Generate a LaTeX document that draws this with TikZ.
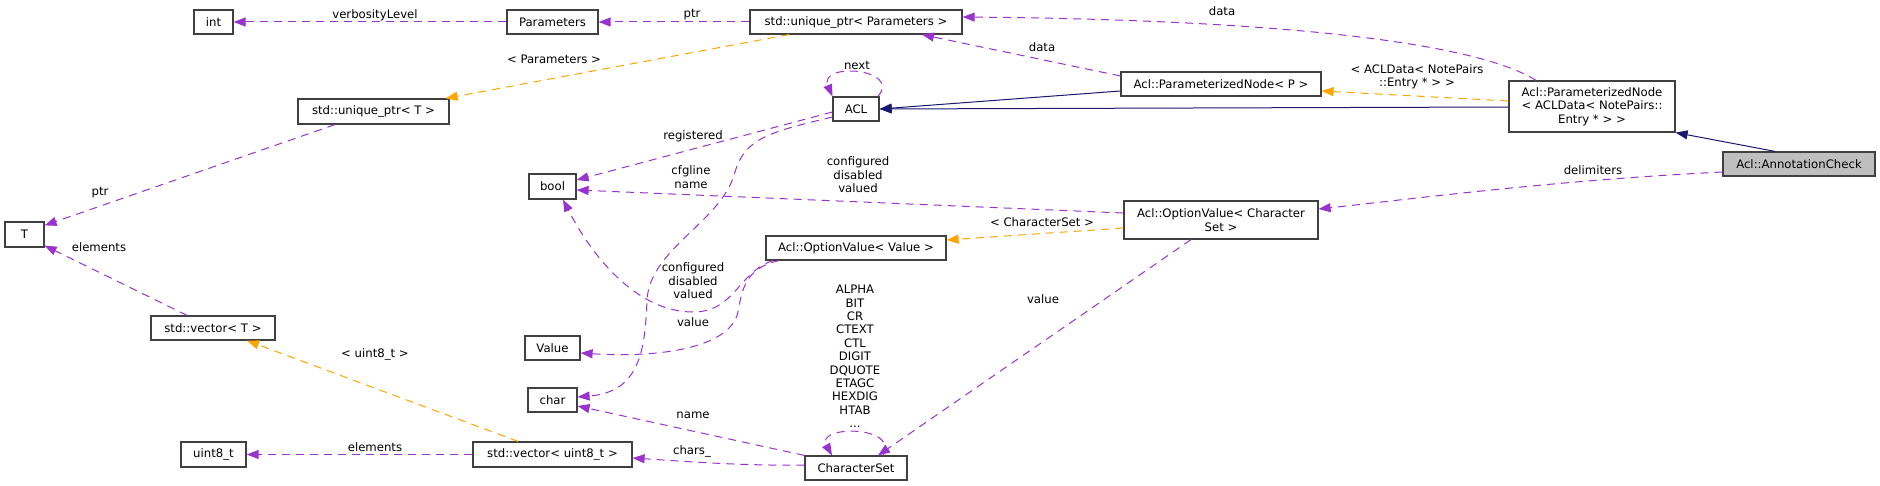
\documentclass[tikz,border=0pt]{standalone}
\usepackage{fontspec}
\setmainfont{DejaVu Sans}
\usetikzlibrary{arrows.meta}
\definecolor{dpurple}{HTML}{9A32CD}
\definecolor{dorange}{HTML}{FFA500}
\definecolor{dnavy}{HTML}{191970}
\definecolor{dgrey}{HTML}{BFBFBF}
\definecolor{dbord}{HTML}{404040}
\tikzset{
  box/.style={draw=dbord, line width=1.2pt, fill=white, inner sep=0pt, align=center},
  lbl/.style={inner sep=0pt, align=center},
  member/.style={draw=dpurple, line width=1pt, dash pattern=on 8pt off 6pt,
    -{Triangle[length=12pt,width=9pt,fill=dpurple]}},
  tmpl/.style={draw=dorange, line width=1pt, dash pattern=on 8pt off 6pt,
    -{Triangle[length=12pt,width=9pt,fill=dorange]}},
  inherit/.style={draw=dnavy, line width=1pt,
    -{Triangle[length=12pt,width=9pt,fill=dnavy]}},
}
\begin{document}
\begin{tikzpicture}[x=1pt,y=-1pt,font=\fontsize{11.7}{13.4}\selectfont]
\useasboundingbox[fill=white] (0,0) rectangle (1880,486);

% nodes
\node[box, minimum width=39pt, minimum height=24pt] (int) at (213.5,22) {int};
\node[box, minimum width=91pt, minimum height=24pt] (Parameters) at (552.5,22) {Parameters};
\node[box, minimum width=212pt, minimum height=24pt] (uptrP) at (856,22) {std::unique\_ptr< Parameters >};
\node[box, minimum width=151pt, minimum height=25pt] (uptrT) at (373.5,111.5) {std::unique\_ptr< T >};
\node[box, minimum width=47pt, minimum height=25pt] (bool) at (552.5,186.5) {bool};
\node[box, minimum width=39pt, minimum height=25pt] (T) at (24.5,234.5) {T};
\node[box, minimum width=46pt, minimum height=24pt] (ACL) at (856,109) {ACL};
\node[box, minimum width=200pt, minimum height=24pt] (PNP) at (1221,84) {Acl::ParameterizedNode< P >};
\node[box, minimum width=166pt, minimum height=51pt] (PNA) at (1592,106.5) {Acl::ParameterizedNode\\< ACLData< NotePairs::\\Entry * > >};
\node[box, fill=dgrey, minimum width=152pt, minimum height=24pt] (AC) at (1799,164) {Acl::AnnotationCheck};
\node[box, minimum width=194pt, minimum height=38pt] (OVC) at (1221,220) {Acl::OptionValue< Character\\Set >};
\node[box, minimum width=180pt, minimum height=24pt] (OVV) at (856,248) {Acl::OptionValue< Value >};
\node[box, minimum width=55pt, minimum height=24pt] (Value) at (552.5,348) {Value};
\node[box, minimum width=49pt, minimum height=24pt] (char) at (552.5,400) {char};
\node[box, minimum width=124pt, minimum height=24pt] (vecT) at (213,328) {std::vector< T >};
\node[box, minimum width=65pt, minimum height=25pt] (u8) at (213.5,454.5) {uint8\_t};
\node[box, minimum width=159pt, minimum height=25pt] (vecU8) at (552.5,454.5) {std::vector< uint8\_t >};
\node[box, minimum width=102pt, minimum height=24pt] (CS) at (856,468) {CharacterSet};

% edges
\draw[member] (Parameters.west) -- (int.east);
\draw[member] (uptrP.west) -- (Parameters.east);
\draw[tmpl] ([xshift=-67pt]uptrP.south) -- ([xshift=-4pt]uptrT.north east);
\draw[member] ([xshift=-38.5pt]uptrT.south) -- ([yshift=-4pt]T.north east);
\draw[member] ([xshift=-26pt]vecT.north) -- ([yshift=2pt]T.south east);
\draw[tmpl] ([xshift=-34.5pt]vecU8.north) -- ([xshift=34pt]vecT.south);
\draw[member] (vecU8.west) -- (u8.east);
\draw[member] ([yshift=3pt]CS.west) .. controls (740,466) and (680,461) .. ([yshift=-3.5pt]vecU8.east);
\draw[member] (CS.north west) -- ([yshift=-6pt]char.east);
\draw[member] ([xshift=27pt]CS.north) .. controls (900,425) and (815,425) .. ([xshift=-24pt]CS.north);
\draw[member] ([xshift=-30pt]OVC.south) -- ([xshift=22pt]CS.north);
\draw[tmpl] ([yshift=-8pt]OVC.west) -- ([yshift=8pt]OVV.east);
\draw[member] ([yshift=7pt]OVC.west) -- ([yshift=-3.5pt]bool.east);
\draw[member] ([xshift=-83pt]OVV.south) .. controls (738,272) and (735,312) .. (693,312)
   .. controls (640,312) and (595,262) .. ([xshift=10.5pt]bool.south);
\draw[member] ([xshift=-77pt]OVV.south) .. controls (745,268) and (742,290) .. (738,312)
   .. controls (730,348) and (660,358) .. ([yshift=-5pt]Value.east);
\draw[member] ([yshift=-3pt]ACL.west) -- ([yshift=6.5pt]bool.east);
\draw[member] ([yshift=-8pt]ACL.west) .. controls (770,132) and (745,138) .. (735,172)
   .. controls (722,222) and (650,248) .. (647,300)
   .. controls (645,350) and (640,392) .. ([yshift=3pt]char.east);
\draw[member] ([xshift=22pt]ACL.north) .. controls (902,68) and (818,62) .. (ACL.north west);
\draw[inherit] ([yshift=-7pt]PNP.west) -- (ACL.east);
\draw[inherit] ([yshift=-0.5pt]PNA.west) -- (ACL.east);
\draw[member] ([yshift=8pt]PNP.west) -- ([xshift=66pt]uptrP.south);
\draw[member] ([xshift=-56pt]PNA.north) .. controls (1480,45) and (1300,20) .. ([yshift=5pt]uptrP.east);
\draw[tmpl] ([yshift=5.5pt]PNA.west) -- ([yshift=-7pt]PNP.east);
\draw[inherit] ([xshift=-24pt]AC.north) -- (PNA.south east);
\draw[member] ([yshift=-8pt]AC.west) .. controls (1560,180) and (1420,198) .. ([yshift=11pt]OVC.east);

% labels
\node[lbl] (l1) at (375,15) {verbosityLevel};
\node[lbl] (l2) at (692,15) {ptr};
\node[lbl] (l3) at (554,59) {< Parameters >};
\node[lbl] (l4) at (100,193) {ptr};
\node[lbl] (l5) at (99,247) {elements};
\node[lbl] (l6) at (375,354) {< uint8\_t >};
\node[lbl] (l7) at (375,447) {elements};
\node[lbl] (l8) at (692,451) {chars\_};
\node[lbl] (l9) at (693,415) {name};
\node[lbl, anchor=north] (l10) at (855,285) {ALPHA\\BIT\\CR\\CTEXT\\CTL\\DIGIT\\DQUOTE\\ETAGC\\HEXDIG\\HTAB\\...};
\node[lbl] (l11) at (1043,299) {value};
\node[lbl] (l12) at (1042,222) {< CharacterSet >};
\node[lbl] (l13) at (858,175) {configured\\disabled\\valued};
\node[lbl] (l14) at (693,281) {configured\\disabled\\valued};
\node[lbl] (l15) at (693,322) {value};
\node[lbl] (l16) at (693,136) {registered};
\node[lbl] (l17) at (691,177) {cfgline\\name};
\node[lbl] (l18) at (857,65) {next};
\node[lbl] (l19) at (1042,47) {data};
\node[lbl] (l20) at (1222,11) {data};
\node[lbl] (l21) at (1417,77) {< ACLData< NotePairs\\::Entry * > >};
\node[lbl] (l22) at (1593,170) {delimiters};
\end{tikzpicture}
\end{document}
